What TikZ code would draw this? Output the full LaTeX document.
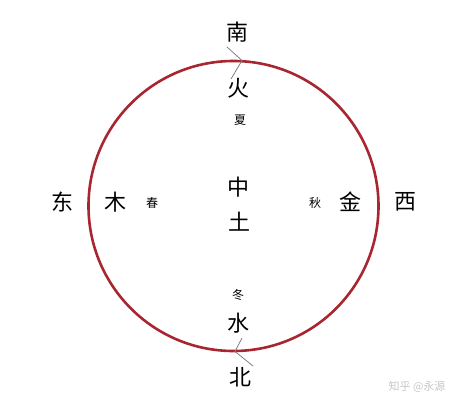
\documentclass[tikz,border=0pt]{standalone}
\usepackage{fontspec}
\newfontfamily\cjk{Noto Sans CJK SC}
\definecolor{ringred}{RGB}{168,38,48}
\tikzset{
  big/.style={font=\cjk\fontsize{22}{22}\selectfont},
  small/.style={font=\cjk\fontsize{12}{12}\selectfont},
  tickmark/.style={draw=gray,line width=0.8pt},
}
\begin{document}
\begin{tikzpicture}[x=1pt,y=-1pt]
    \useasboundingbox (0,0) rectangle (464,408);
    %% ring
    \draw[ringred,line width=2.6pt] (233.5,206) circle[radius=145pt];
    %% direction marks
    \coordinate (topa) at (227,47);
    \coordinate (toptip) at (242,60.5);
    \coordinate (topb) at (231,79);
    \draw[tickmark] (topa) -- (toptip) -- (topb);
    \coordinate (bota) at (242,338);
    \coordinate (bottip) at (235,351.5);
    \coordinate (botb) at (253,366);
    \draw[tickmark] (bota) -- (bottip) -- (botb);
    %% south
    \node[big] (nan) at (237,32) {南};
    \node[big] (huo) at (238,88) {火};
    \node[small] (xia) at (240,120) {夏};
    %% centre
    \node[big] (zhong) at (238,187) {中};
    \node[big] (tu) at (239,222) {土};
    %% north
    \node[small] (dong2) at (238,295) {冬};
    \node[big] (shui) at (238,323) {水};
    \node[big] (bei) at (240,377) {北};
    %% east
    \node[big] (dong) at (63,202) {东};
    \node[big] (mu) at (115,202) {木};
    \node[small] (chun) at (152,203) {春};
    %% west
    \node[small] (qiu) at (315,203) {秋};
    \node[big] (jin) at (350,202) {金};
    \node[big] (xi) at (405,202) {西};
    %% mark
    \node[font=\cjk\fontsize{11}{11}\selectfont,text=gray!45] (mark) at (417,387) {知乎 @永源};
\end{tikzpicture}
\end{document}
